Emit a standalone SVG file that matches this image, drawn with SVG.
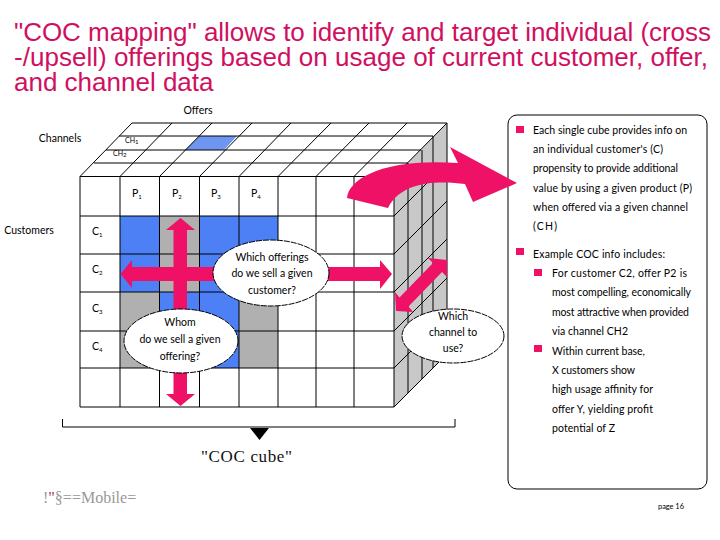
<svg xmlns="http://www.w3.org/2000/svg" width="720" height="540" viewBox="0 0 720 540">
<style>
.t{font-family:"Lato","Liberation Sans",sans-serif;fill:#000;font-weight:400}
.s{font-size:10.5px}
.m{text-anchor:middle}
.title{font-family:"Liberation Sans",Arial,sans-serif;font-size:26px;fill:#d0105f}
.g{fill:none;stroke:#000;stroke-width:1}
.e{fill:#fff;stroke:#000;stroke-width:1;stroke-dasharray:6 1}
.p{fill:#ee1166}
.b{fill:#4d80f5}
.y{fill:#b0b0b0}
.sub{font-size:6px}
</style>
<rect width="720" height="540" fill="#fff"/>
<g class="title">
<text x="14" y="40.500" textLength="697">"COC mapping" allows to identify and target individual (cross</text>
<text x="14" y="65.500" textLength="694">-/upsell) offerings based on usage of current customer, offer,</text>
<text x="14" y="90.500">and channel data</text>
</g>
<g id="cube">
<polygon points="394,176.500 447,123 447,354 394,407" fill="#c8c8c8"/>
<polygon points="185,150 199,136 237,136 224,150" fill="#6e96f0"/>
<rect class="b" x="120" y="216" width="40" height="76"/>
<rect class="y" x="160" y="216" width="39.500" height="76"/>
<rect class="b" x="199.500" y="216" width="78.500" height="76"/>
<rect class="y" x="120" y="292" width="40" height="76"/>
<rect class="b" x="160" y="292" width="79" height="76"/>
<rect class="y" x="239" y="292" width="39" height="76"/>
<path class="g" d="M80 176.500H394V407H80ZM80 216H394M80 254H394M80 292H394M80 331H394M80 368H394M120 176.500V407M159.500 176.500V407M199.500 176.500V407M239 176.500V407M278 176.500V407M316 176.500V407M354 176.500V407M132 123H447M119 136H433M106 150H421M94 163H408M80 176.500L132 123M120 176.500L172 123M159.500 176.500L212 123M199.500 176.500L252 123M239 176.500L291 123M278 176.500L331 123M316 176.500L369 123M354 176.500L407 123M394 176.500L447 123M447 123V354L394 407M408 163V393M422 150V379M433 136V368M394 216L447 163M394 254L447 201M394 292L447 239M394 331L447 278M394 368L447 315"/>
</g>
<g id="panel">
<rect x="508" y="115" width="199" height="374" rx="9" fill="#fff" stroke="#000"/>
<rect class="p" x="516" y="126" width="8" height="7"/>
<rect class="p" x="516" y="248" width="8" height="7"/>
<rect class="p" x="534" y="269" width="8" height="7"/>
<rect class="p" x="534" y="345" width="8" height="7"/>
<g class="t s">
<text x="533" y="134" textLength="154">Each single cube provides info on</text>
<text x="533" y="153" textLength="130">an individual customer's (C)</text>
<text x="533" y="172" textLength="145">propensity to provide additional</text>
<text x="533" y="192" textLength="159">value by using a given product (P)</text>
<text x="533" y="211" textLength="155">when offered via a given channel</text>
<text x="533" y="230" textLength="24">(CH)</text>
<text x="533" y="258" textLength="132">Example COC info includes:</text>
<text x="552" y="277" textLength="135">For customer C2, offer P2 is</text>
<text x="552" y="296" textLength="139">most compelling, economically</text>
<text x="552" y="316" textLength="137">most attractive when provided</text>
<text x="552" y="335" textLength="76">via channel CH2</text>
<text x="552" y="355" textLength="93">Within current base,</text>
<text x="552" y="374" textLength="83">X customers show</text>
<text x="552" y="393" textLength="101">high usage affinity for</text>
<text x="552" y="413" textLength="101">offer Y, yielding profit</text>
<text x="552" y="432" textLength="63">potential of Z</text>
</g>
</g>
<g id="connectors">
<path class="p" d="M180.500 218L195 230H187V394H195L180.500 406L166 394H173.500V230H166Z"/>
<path class="p" d="M132 267V260L120.500 274L132 288V281H380V289L392 274L380 260V267Z"/>
<polygon class="p" points="428,258 447,260 447,277 442,272 408.500,306.500 413,312 396,311 395,292 399.500,297.500 433,263"/>
<path class="p" d="M347 198C349 178 385 158 458 163L450 147L517 183L473 202L465 184C440 181 402 180 388 208Z"/>
<path class="g" d="M62.500 419V427H455V419"/>
<polygon points="250,428 269,428 259.500,440" fill="#000"/>
</g>
<g id="q1"><ellipse class="e" cx="271" cy="273" rx="58" ry="33"/>
<text class="t s m" x="272" y="261">Which offerings</text><text class="t s m" x="272" y="277">do we sell a given</text><text class="t s m" x="272" y="294">customer?</text></g>
<g id="q2"><ellipse class="e" cx="181" cy="341" rx="57" ry="32"/>
<text class="t s m" x="180" y="326">Whom</text><text class="t s m" x="180" y="343">do we sell a given</text><text class="t s m" x="180" y="360">offering?</text></g>
<g id="q3"><ellipse class="e" cx="453" cy="336" rx="51" ry="27"/>
<text class="t s m" x="453" y="320">Which</text><text class="t s m" x="453" y="336">channel to</text><text class="t s m" x="453" y="352">use?</text></g>
<g id="labels">
<text class="t s m" x="198" y="114">Offers</text>
<text class="t s m" x="60" y="142">Channels</text>
<text class="t s m" x="29" y="234">Customers</text>
<text class="t s" x="132" y="197">P<tspan class="sub" dy="2">1</tspan></text>
<text class="t s" x="172" y="197">P<tspan class="sub" dy="2">2</tspan></text>
<text class="t s" x="211" y="197">P<tspan class="sub" dy="2">3</tspan></text>
<text class="t s" x="251" y="197">P<tspan class="sub" dy="2">4</tspan></text>
<text class="t s" x="92" y="235">C<tspan class="sub" dy="2">1</tspan></text>
<text class="t s" x="92" y="273">C<tspan class="sub" dy="2">2</tspan></text>
<text class="t s" x="92" y="312">C<tspan class="sub" dy="2">3</tspan></text>
<text class="t s" x="92" y="350">C<tspan class="sub" dy="2">4</tspan></text>
<text class="t" font-size="7" x="125" y="143">CH<tspan class="sub" dy="1">1</tspan></text>
<text class="t" font-size="7" x="113" y="156">CH<tspan class="sub" dy="1">2</tspan></text>
<text x="201" y="462" font-family="Liberation Serif,serif" font-size="17" textLength="91" fill="#111">"COC cube"</text>
<text x="43" y="503" font-family="Liberation Serif,serif" font-size="16" fill="#999">!<tspan fill="#a03070">"</tspan>§==Mobile=</text>
<text class="t" font-size="7.500" x="658" y="509" textLength="26" font-weight="700">page 16</text>
</g>
</svg>
